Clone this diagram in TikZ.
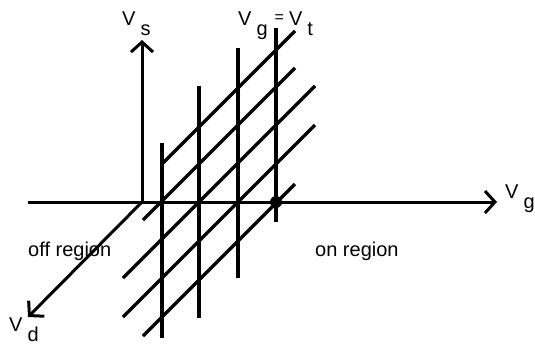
\documentclass[tikz,border=0pt]{standalone}
\usepackage{fontspec}
\setmainfont{Liberation Sans}
\usetikzlibrary{arrows.meta}
\newcommand{\lowidx}[1]{\hspace{5pt}\raisebox{-10pt}{#1}}
\tikzset{
  axis/.style   = {line width=3pt, -{Straight Barb[length=10pt,width=22pt,line width=3pt]}},
  grid/.style   = {line width=3.4pt},
  lbl/.style    = {inner sep=0pt, font=\fontsize{20}{22}\selectfont},
  point/.style  = {circle, fill=black, inner sep=0pt, minimum size=12pt},
}

\begin{document}
\begin{tikzpicture}[x=1pt, y=-1pt]
  \useasboundingbox (0,0) rectangle (535,346);

  % axes
  \coordinate (O)  at (142,202);
  \coordinate (gl) at (28,202);
  \coordinate (gr) at (497,202);
  \coordinate (st) at (142,40);
  \coordinate (dt) at (28,317);
  \draw[line width=3pt] (gl) -- (O);
  \draw[axis] (O) -- (gr);
  \draw[axis] (O) -- (st);
  \draw[axis] (O) -- (dt);

  % lines of constant Vs, Vd
  \foreach \xa/\ya/\xb/\yb in {162/164/295/31, 143/220/295/68, 123/278/315/86,
                               123/317/315/125, 143/336/295/184}
    \draw[grid] (\xa,\ya) -- (\xb,\yb);

  % lines of constant Vg
  \foreach \xv/\ytop/\ybot in {162/143/338, 199/86/318, 238/48/278, 276/28/222}
    \draw[grid] (\xv,\ytop) -- (\xv,\ybot);

  \node[point] (vt) at (276,202) {};

  % labels
  \node[lbl, anchor=base west] (vs)  at (122,25)  {V\lowidx{s}};
  \node[lbl, anchor=base west] (vgt) at (238,25)
    {V\lowidx{g}\hspace{7pt}\raisebox{3pt}{\fontsize{16}{16}\selectfont =}\hspace{5pt}V\lowidx{t}};
  \node[lbl, anchor=base west] (vg)  at (505,198) {V\lowidx{g}};
  \node[lbl, anchor=base west] (vd)  at (9,331)   {V\lowidx{d}};
  \node[lbl, anchor=base west] (off) at (28,256)  {off region};
  \node[lbl, anchor=base west] (on)  at (315,256) {on region};
\end{tikzpicture}
\end{document}
